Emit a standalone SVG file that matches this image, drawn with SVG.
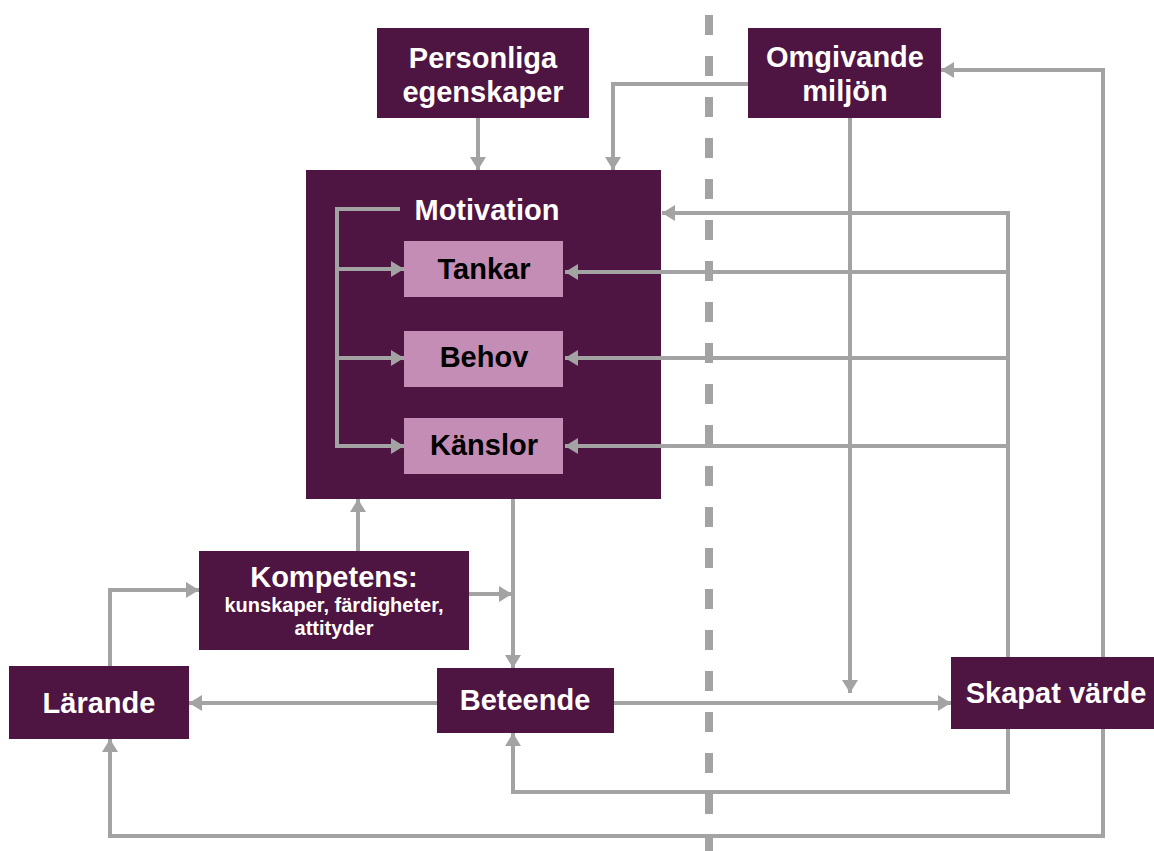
<svg xmlns="http://www.w3.org/2000/svg" width="1154" height="851" viewBox="0 0 1154 851">
<style>
.box{fill:#4e1442}
.inner{fill:#c48db5}
.t{font-family:"Liberation Sans",Arial,sans-serif;font-weight:bold;font-size:29px;fill:#fff;text-anchor:middle}
.ti{font-family:"Liberation Sans",Arial,sans-serif;font-weight:bold;font-size:29px;fill:#000;text-anchor:middle}
.ts{font-family:"Liberation Sans",Arial,sans-serif;font-weight:bold;font-size:20px;fill:#fff;text-anchor:middle}
.c{fill:none;stroke:#a3a3a3;stroke-width:4}
</style>
<defs>
<marker id="ah" markerUnits="userSpaceOnUse" markerWidth="13" markerHeight="16" refX="13" refY="8" orient="auto">
<path d="M0,0 L13,8 L0,16 z" fill="#a3a3a3"/>
</marker>
</defs>
<rect width="1154" height="851" fill="#fff"/>
<line x1="709" y1="15" x2="709" y2="851" stroke="#a3a3a3" stroke-width="8" stroke-dasharray="20 21"/>

<g id="motivation">
<rect class="box" x="306" y="170" width="355" height="329"/>
<text class="t" x="487" y="220">Motivation</text>
</g>
<g id="tankar"><rect class="inner" x="404" y="241" width="159" height="56"/><text class="ti" x="484" y="279">Tankar</text></g>
<g id="behov"><rect class="inner" x="404" y="331" width="159" height="56"/><text class="ti" x="484" y="367">Behov</text></g>
<g id="kanslor"><rect class="inner" x="404" y="418" width="159" height="56"/><text class="ti" x="484" y="455">Känslor</text></g>

<g id="connectors">
<path class="c" d="M478,118 V170" marker-end="url(#ah)"/>
<path class="c" d="M748,84 H613 V170" marker-end="url(#ah)"/>
<path class="c" d="M850,118 V693" marker-end="url(#ah)"/>
<path class="c" d="M1103,657 V70 H941" marker-end="url(#ah)"/>
<path class="c" d="M1103,729 V836 H110 V739" marker-end="url(#ah)"/>
<path class="c" d="M1008,657 V213 H662" marker-end="url(#ah)"/>
<path class="c" d="M1008,272 H565" marker-end="url(#ah)"/>
<path class="c" d="M1008,358 H565" marker-end="url(#ah)"/>
<path class="c" d="M1008,446 H565" marker-end="url(#ah)"/>
<path class="c" d="M1008,729 V792 H513 V733" marker-end="url(#ah)"/>
<path class="c" d="M400,209 H337 V446 H404" marker-end="url(#ah)"/>
<path class="c" d="M337,269 H404" marker-end="url(#ah)"/>
<path class="c" d="M337,358 H404" marker-end="url(#ah)"/>
<path class="c" d="M513,499 V668" marker-end="url(#ah)"/>
<path class="c" d="M358,551 V499" marker-end="url(#ah)"/>
<path class="c" d="M469,594 H512" marker-end="url(#ah)"/>
<path class="c" d="M110,666 V590 H199" marker-end="url(#ah)"/>
<path class="c" d="M437,703 H189" marker-end="url(#ah)"/>
<path class="c" d="M614,703 H951" marker-end="url(#ah)"/>
</g>

<g id="personliga">
<rect class="box" x="377" y="28" width="212" height="90"/>
<text class="t" x="483" y="68">Personliga</text>
<text class="t" x="483" y="102">egenskaper</text>
</g>
<g id="omgivande">
<rect class="box" x="748" y="28" width="193" height="90"/>
<text class="t" x="845" y="67">Omgivande</text>
<text class="t" x="845" y="101">miljön</text>
</g>
<g id="kompetens">
<rect class="box" x="199" y="551" width="270" height="99"/>
<text class="t" x="334" y="587">Kompetens:</text>
<text class="ts" x="334" y="612">kunskaper, färdigheter,</text>
<text class="ts" x="334" y="635">attityder</text>
</g>
<g id="larande">
<rect class="box" x="9" y="666" width="180" height="73"/>
<text class="t" x="99" y="713">Lärande</text>
</g>
<g id="beteende">
<rect class="box" x="437" y="668" width="177" height="65"/>
<text class="t" x="525" y="710">Beteende</text>
</g>
<g id="skapat">
<rect class="box" x="951" y="657" width="203" height="72"/>
<text class="t" x="1056" y="703">Skapat värde</text>
</g>
</svg>
